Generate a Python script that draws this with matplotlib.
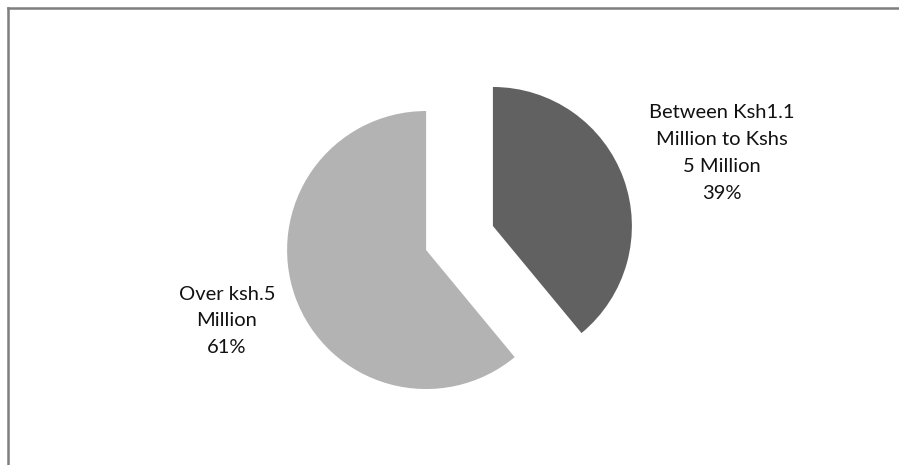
import matplotlib.pyplot as plt
from matplotlib.lines import Line2D

# Share of respondents by annual turnover
labels = ["Between Ksh1.1\nMillion to Kshs\n5 Million", "Over ksh.5\nMillion"]
shares = [39, 61]
colors = ["#616161", "#b3b3b3"]

W, H = 899, 465
fig = plt.figure(figsize=(W / 100, H / 100), dpi=100)
ax = fig.add_axes([0, 0, 1, 1])

# explode offsets are in data units (pixels here)
ax.pie(shares, colors=colors, startangle=90, counterclock=False,
       center=(459.5, H - 238), radius=139, explode=[35.5, 35.5],
       wedgeprops=dict(linewidth=0))

# pie() resets the limits, so set the pixel-sized canvas afterwards
ax.set_xlim(0, W)
ax.set_ylim(0, H)
ax.set_aspect("equal")
ax.axis("off")

# data labels: name plus percentage
label_pos = [(722, H - 153), (227, H - 321)]
for lab, val, (x, y) in zip(labels, shares, label_pos):
    ax.text(x, y, f"{lab}\n{val}%", ha="center", va="center",
            fontsize=14.5, family="Lato", linespacing=1.7, color="#111111")

# chart frame (only top and left edges fall inside the image)
fig.add_artist(Line2D([8 / W, 1], [1 - 8 / H, 1 - 8 / H], transform=fig.transFigure,
                      color="#7f7f7f", lw=1.8))
fig.add_artist(Line2D([8 / W, 8 / W], [0, 1 - 8 / H], transform=fig.transFigure,
                      color="#7f7f7f", lw=1.8))

fig.savefig("out.png", dpi=100, facecolor="white")
